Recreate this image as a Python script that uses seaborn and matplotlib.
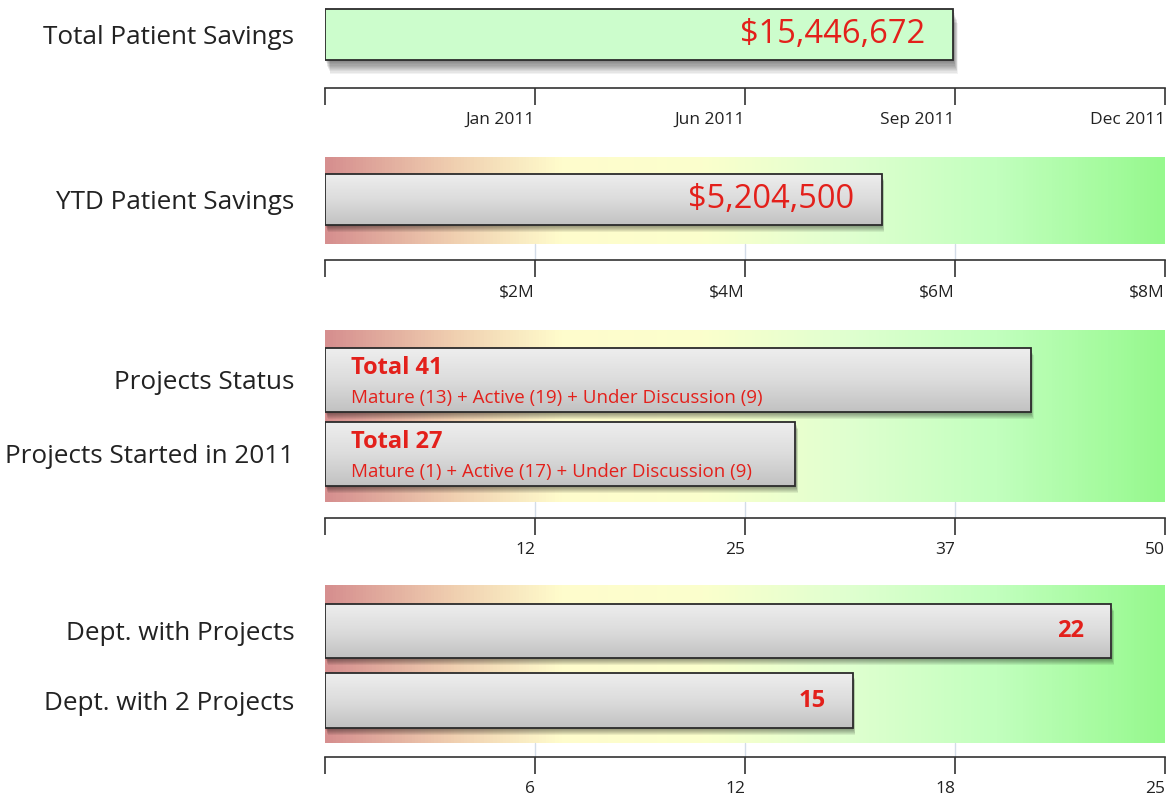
import numpy as np
import pandas as pd
import matplotlib
matplotlib.use('Agg')
import matplotlib.pyplot as plt
import seaborn as sns
from matplotlib.colors import LinearSegmentedColormap
from matplotlib.patches import Rectangle
import matplotlib.transforms as mtransforms

# ---- data ----
total_label = ['Total Patient Savings']
total_savings = [15446672]
total_bar = [2.99]                      # bar end on the timeline axis
timeline_ticks = ['', 'Jan 2011', 'Jun 2011', 'Sep 2011', 'Dec 2011']

ytd_label = ['YTD Patient Savings']
ytd_savings = [5204500]
ytd_bar = [5.3e6]
ytd_ticks = [0, 2e6, 4e6, 6e6, 8e6]
ytd_ticklabels = ['', '$2M', '$4M', '$6M', '$8M']

project_labels = ['Projects Status', 'Projects Started in 2011']
project_totals = [41, 27]
project_bar = [42, 28]
mature = [13, 1]
active = [19, 17]
discussion = [9, 9]
project_ticks = [0, 12.5, 25, 37.5, 50]
project_ticklabels = ['', '12', '25', '37', '50']

dept_labels = ['Dept. with Projects', 'Dept. with 2 Projects']
dept_counts = [22, 15]
dept_bar = [23.4, 15.7]
dept_ticks = [0, 6.25, 12.5, 18.75, 25]
dept_ticklabels = ['', '6', '12', '18', '25']

RED = '#e3201b'
EDGE = '#2b2b2b'
FONT = 'Open Sans'

sns.set_style('white')
plt.rcParams['font.family'] = [FONT, 'DejaVu Sans']

W, H = 1168, 800
fig = plt.figure(figsize=(W / 100, H / 100), dpi=100)

bg_cmap = LinearSegmentedColormap.from_list('bg', [
    (0.00, '#d68f8f'), (0.15, '#f0cfb0'), (0.28, '#fffccc'), (0.45, '#fbffcc'),
    (0.62, '#e0ffd0'), (0.80, '#c2ffbe'), (1.00, '#96f98e')])
bar_cmap = LinearSegmentedColormap.from_list('barg', ['#eeeeee', '#dcdcdc', '#c2c2c2'])


def make_axes(top, bottom):
    return fig.add_axes([325 / W, 1 - bottom / H, 840 / W, (bottom - top) / H])


def style_axis(ax, xmax, ticks, ticklabels, outward_px, gap_grid=True):
    ax.set_xlim(0, xmax)
    ax.set_ylabel('')
    ax.set_xlabel('')
    for s in ['top', 'left', 'right']:
        ax.spines[s].set_visible(False)
    ax.spines['bottom'].set_position(('outward', outward_px * 0.72))
    ax.spines['bottom'].set_color('#333333')
    ax.spines['bottom'].set_linewidth(1.2)
    ax.set_xticks(ticks)
    ax.set_xticklabels(ticklabels, fontsize=12.5, color='#222222', ha='right')
    ax.tick_params(axis='x', direction='out', length=12.5, width=1.2,
                   color='#333333', pad=5, bottom=True)
    ax.tick_params(axis='y', length=0, labelsize=18.8, pad=22, colors='#222222')
    for lab in ax.get_yticklabels():
        lab.set_fontfamily(FONT)
    if gap_grid:
        # faint grid lines in the gap under the panel
        trans = mtransforms.blended_transform_factory(ax.transData, ax.transAxes)
        gap = outward_px / (ax.get_position().height * H)
        for t in ticks[1:-1]:
            ax.plot([t, t], [0, -gap], transform=trans, color='#d3dce8',
                    lw=1, clip_on=False, zorder=0)


def add_background(ax, xmax):
    y0, y1 = ax.get_ylim()
    grad = np.linspace(0, 1, 256).reshape(1, -1)
    ax.imshow(grad, cmap=bg_cmap, extent=[0, xmax, y0, y1], aspect='auto',
              zorder=0, interpolation='bicubic')


def decorate_bars(ax, face=None, shadow_px=5, layers=7, alpha=0.07):
    for p in list(ax.patches):
        x, y = p.get_x(), p.get_y()
        w, h = p.get_width(), p.get_height()
        # soft drop shadow: stacked translucent rectangles
        for k in range(1, layers + 1):
            off = mtransforms.offset_copy(ax.transData, fig=fig,
                                          x=k * 0.3, y=-k * shadow_px / layers,
                                          units='points')
            ax.add_patch(Rectangle((x, y), w, h, transform=off, fc='black',
                                   ec='none', alpha=alpha, zorder=1, clip_on=False))
        p.set_zorder(2)
        p.set_edgecolor('none')
        if face is None:
            p.set_facecolor('#d6d6d6')
            im = ax.imshow(np.linspace(0, 1, 64).reshape(-1, 1), cmap=bar_cmap,
                           extent=[x, x + w, y + h, y], aspect='auto',
                           zorder=2.5, interpolation='bicubic')
            im.set_clip_path(p)
        else:
            p.set_facecolor(face)
        ax.add_patch(Rectangle((x, y), w, h, fill=False, ec=EDGE, lw=1.3, zorder=3))


# ---- panel 1: total patient savings ----
ax1 = make_axes(5, 70)
df1 = pd.DataFrame({'label': total_label, 'bar': total_bar})
sns.barplot(data=df1, x='bar', y='label', orient='h', width=0.73, ax=ax1)
ax1.set_ylim(0.51, -0.42)
decorate_bars(ax1, face='#ccfdcc', shadow_px=10, layers=12, alpha=0.05)
style_axis(ax1, 4, [0, 1, 2, 3, 4], timeline_ticks, 18, gap_grid=False)
ax1.text(total_bar[0] - 0.13, 0, f'${total_savings[0]:,}', color=RED, fontsize=23.5,
         ha='right', va='center', zorder=4)

# ---- panel 2: YTD savings ----
ax2 = make_axes(157, 244)
df2 = pd.DataFrame({'label': ytd_label, 'bar': ytd_bar})
sns.barplot(data=df2, x='bar', y='label', orient='h', width=0.73, ax=ax2)
ax2.set_ylim(0.63, -0.61)
add_background(ax2, 8e6)
decorate_bars(ax2)
style_axis(ax2, 8e6, ytd_ticks, ytd_ticklabels, 16)
ax2.text(ytd_bar[0] - 0.26e6, 0, f'${ytd_savings[0]:,}', color=RED, fontsize=23.5,
         ha='right', va='center', zorder=4)

# ---- panel 3: projects ----
ax3 = make_axes(330, 502)
df3 = pd.DataFrame({'label': project_labels, 'bar': project_bar})
sns.barplot(data=df3, x='bar', y='label', orient='h', width=0.86, ax=ax3)
ax3.set_ylim(1.65, -0.676)
add_background(ax3, 50)
decorate_bars(ax3)
style_axis(ax3, 50, project_ticks, project_ticklabels, 16)
for i in range(len(project_labels)):
    ax3.text(1.55, i - 0.16, f'Total {project_totals[i]}', color=RED, fontsize=17,
             fontweight='bold', ha='left', va='center', zorder=4)
    ax3.text(1.55, i + 0.25,
             f'Mature ({mature[i]}) + Active ({active[i]}) + Under Discussion ({discussion[i]})',
             color=RED, fontsize=13.5, ha='left', va='center', zorder=4)

# ---- panel 4: departments ----
ax4 = make_axes(585, 743)
df4 = pd.DataFrame({'label': dept_labels, 'bar': dept_bar})
sns.barplot(data=df4, x='bar', y='label', orient='h', width=0.78, ax=ax4)
ax4.set_ylim(1.61, -0.66)
add_background(ax4, 25)
decorate_bars(ax4)
style_axis(ax4, 25, dept_ticks, dept_ticklabels, 14)
for i, v in enumerate(dept_counts):
    ax4.text(dept_bar[i] - 0.8, i, str(v), color=RED, fontsize=17,
             fontweight='bold', ha='right', va='center', zorder=4)

fig.savefig('out.png', dpi=100)
